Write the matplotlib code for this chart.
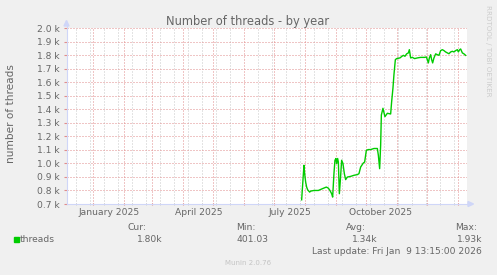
import numpy as np
import pandas as pd
import matplotlib
matplotlib.use("Agg")
import matplotlib.pyplot as plt
import matplotlib.dates as mdates
from matplotlib.patches import Polygon, Rectangle
from matplotlib.lines import Line2D

W, H = 497, 275
BG = "#F0F0F0"
FONT = "#666666"
AXIS = "#CFD6F8"
MGRID = "#E08C8C"
GRID = "#C8C8C8"
GREEN = "#00CC00"

# days since 2025-01-01 and daily thread count
START = pd.Timestamp("2025-01-01")
days = [208.7, 211.0, 211.7, 212.7, 213.7, 214.7, 216.7, 217.7, 221.0, 225.4,
        229.4, 233.4, 235.4, 237.0, 238.7, 239.7, 241.0, 242.0, 243.0, 243.7,
        244.7, 245.4, 246.4, 247.4, 248.7, 250.0, 251.4, 252.7, 254.4, 257.7,
        261.0, 264.4, 266.0, 267.7, 270.4, 271.7, 273.4, 275.4, 277.7, 281.0,
        284.4, 285.4, 286.7, 287.7, 288.4, 290.0, 292.0, 294.4, 297.7, 298.7,
        300.0, 301.0, 302.4, 303.7, 307.0, 309.0, 310.4, 312.0, 313.7, 315.4,
        316.4, 317.7, 319.4, 321.7, 324.4, 327.7, 331.7, 333.4, 334.4, 335.4,
        336.4, 337.7, 338.7, 339.7, 341.0, 342.7, 344.4, 346.0, 347.7, 349.4,
        351.0, 352.7, 354.4, 356.0, 357.7, 359.4, 361.0, 362.7, 364.4, 365.4,
        366.7, 367.7, 369.4, 371.0, 372.7]
threads = [731, 986, 924, 862, 825, 805, 788, 795, 800, 800,
           813, 825, 817, 800, 776, 751, 924, 1023, 1036, 999,
           1036, 1010, 776, 875, 1023, 999, 924, 880, 899, 904,
           912, 917, 924, 973, 1003, 1010, 1097, 1102, 1102, 1110,
           1110, 1060, 961, 1135, 1357, 1407, 1345, 1370, 1365, 1456,
           1556, 1655, 1766, 1774, 1779, 1791, 1798, 1791, 1809, 1816,
           1840, 1779, 1783, 1774, 1779, 1783, 1783, 1786, 1766, 1742,
           1779, 1803, 1766, 1742, 1779, 1809, 1803, 1798, 1833, 1840,
           1833, 1823, 1816, 1810, 1823, 1828, 1823, 1833, 1840, 1823,
           1840, 1845, 1816, 1809, 1798]

yticks = list(range(700, 2001, 100))
quarter_labels = ["January 2025", "April 2025", "July 2025", "October 2025"]
quarter_pos = ["2025-01-16 16:00", "2025-04-17", "2025-07-17", "2025-10-16"]
stat_heads = ["Cur:", "Min:", "Avg:", "Max:"]
stat_vals = ["1.80k", "401.03", "1.34k", "1.93k"]
head_x = [136.8, 246.0, 355.8, 465.8]
val_x = [149.7, 252.2, 364.7, 469.7]

x_end = pd.Timestamp("2026-01-09 13:15")
x_start = x_end - pd.Timedelta(days=400)


def fx(px):
    return px / W


def fy(py):
    return 1 - py / H


fig = plt.figure(figsize=(W / 100, H / 100), dpi=100, facecolor=BG)
ax = fig.add_axes([fx(66.5), fy(204), 400 / W, 176 / H])
ax.set_facecolor("white")

t = START + pd.to_timedelta(days, unit="D")
ax.plot(t, threads, color=GREEN, lw=1.0, solid_joinstyle="round", zorder=3)
ax.set_xlim(x_start, x_end)
ax.set_ylim(700, 2000)

major = pd.date_range("2025-01-01", x_end, freq="MS")
minor = pd.date_range("2024-12-15", x_end, freq="14D")
ax.set_xticks(mdates.date2num(major.to_pydatetime()))
ax.set_xticks(mdates.date2num(minor.to_pydatetime()), minor=True)
ax.tick_params(axis="x", which="both", labelbottom=False, length=2,
               direction="inout")
ax.tick_params(axis="x", which="major", color=MGRID)
ax.tick_params(axis="x", which="minor", color=GRID)
ax.set_yticks(yticks, labels=[f"{v / 1000:.1f} k" for v in yticks])
ax.tick_params(axis="y", length=2, pad=3, labelsize=6.6, labelcolor=FONT,
               color=MGRID)
ax.grid(which="minor", axis="x", color=GRID, ls=(0, (1, 2)), lw=0.72)
ax.grid(which="major", axis="both", color=MGRID, ls=(0, (1, 2)), lw=0.72)
ax.set_axisbelow(True)
for s in ax.spines.values():
    s.set_visible(False)

for pos, lab in zip(quarter_pos, quarter_labels):
    ax.text(mdates.date2num(pd.Timestamp(pos)), -8.3 / 176, lab,
            transform=ax.get_xaxis_transform(), ha="center", va="center",
            fontsize=6.6, color=FONT)

# axis lines with arrows
fig.add_artist(Line2D([fx(66.5), fx(469)], [fy(204), fy(204)], color=AXIS, lw=0.8))
fig.add_artist(Line2D([fx(66.5), fx(66.5)], [fy(204), fy(25)], color=AXIS, lw=0.8))
fig.add_artist(Polygon([[fx(468), fy(201.5)], [fx(473.5), fy(204)], [fx(468), fy(206.5)]],
                       closed=True, color=AXIS, transform=fig.transFigure))
fig.add_artist(Polygon([[fx(64), fy(26)], [fx(66.5), fy(20.5)], [fx(69), fy(26)]],
                       closed=True, color=AXIS, transform=fig.transFigure))

fig.text(fx(248), fy(21.3), "Number of threads - by year", ha="center", va="center",
         fontsize=8.3, color=FONT)
fig.text(fx(10.8), fy(114), "number of threads", rotation=90, ha="center",
         va="center", fontsize=7.6, color=FONT)
fig.text(fx(488), fy(51), "RRDTOOL / TOBI OETIKER", rotation=270, ha="center",
         va="center", fontsize=5.1, color="#CCCCCC")

# legend block
fig.add_artist(Rectangle((fx(14), fy(242.3)), 5.3 / W, 5 / H, color=GREEN,
                         transform=fig.transFigure))
fig.text(fx(20), fy(239.3), "threads", ha="left", va="center", fontsize=6.6, color=FONT)
for x, s in zip(head_x, stat_heads):
    fig.text(fx(x), fy(227.3), s, ha="center", va="center", fontsize=6.6, color=FONT)
for x, s in zip(val_x, stat_vals):
    fig.text(fx(x), fy(239.3), s, ha="center", va="center", fontsize=6.6, color=FONT)
fig.text(fx(482.3), fy(251.7), "Last update: Fri Jan  9 13:15:00 2026", ha="right",
         va="center", fontsize=6.6, color=FONT)
fig.text(fx(248), fy(262.7), "Munin 2.0.76", ha="center", va="center",
         fontsize=5, color="#C4C4C4")

fig.savefig("out.png", dpi=100, facecolor=BG)
